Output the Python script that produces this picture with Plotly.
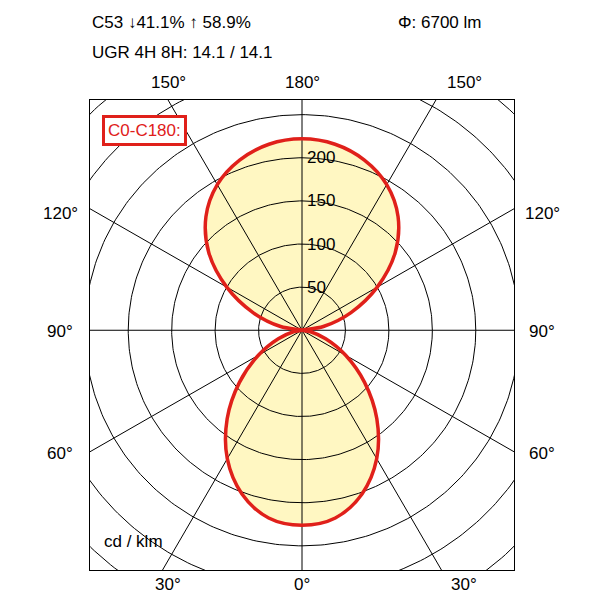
import numpy as np
import plotly.graph_objects as go

# intensity (cd/klm) vs gamma angle (0 = down, 180 = up), C0-C180 plane
gamma = [0, 10, 20, 30, 40, 50, 60, 70, 80, 90, 100, 110, 120, 130, 140, 150, 160, 170, 180]
intensity = [226, 221, 202, 172, 134, 94, 58, 29, 10, 0, 25, 60, 100, 140, 172, 195, 210, 219, 222]
ring_values = [50, 100, 150, 200, 250, 300, 350]
ring_labels = ["50", "100", "150", "200"]
spoke_angles = [0, 30, 60, 90, 120, 150]

g = np.array(gamma, float)
i = np.array(intensity, float)
ang = np.concatenate([g, 360 - g[::-1][1:]])
val = np.concatenate([i, i[::-1][1:]])
rad = np.radians(ang)
cx, cy = val * np.sin(rad), -val * np.cos(rad)

fig = go.Figure()
fig.add_trace(go.Scatter(x=cx, y=cy, mode="lines", fill="toself", fillcolor="#fff7c2",
                         line=dict(width=0, shape="spline"), hoverinfo="skip"))
grid = dict(color="black", width=1)
t = np.linspace(0, 2 * np.pi, 361)
for r in ring_values:
    fig.add_trace(go.Scatter(x=r * np.cos(t), y=r * np.sin(t), mode="lines", line=grid, hoverinfo="skip"))
for a in spoke_angles:
    ra = np.radians(a)
    fig.add_trace(go.Scatter(x=[-500 * np.sin(ra), 500 * np.sin(ra)], y=[500 * np.cos(ra), -500 * np.cos(ra)],
                             mode="lines", line=grid, hoverinfo="skip"))
fig.add_trace(go.Scatter(x=cx, y=cy, mode="lines", line=dict(color="#e0201a", width=3.5, shape="spline"),
                         hoverinfo="skip"))

for r, lab in zip(ring_values, ring_labels):
    fig.add_annotation(x=4, y=r, text=lab, showarrow=False, xanchor="left", yanchor="middle",
                       font=dict(family="Liberation Sans, Arial", size=17, color="black"))

font = dict(family="Liberation Sans, Arial", size=17, color="black")
T, B = 92, 562


def ptext(px, py, s, anchor="center"):
    fig.add_annotation(x=(px - 82) / 424, y=(B - py) / (B - T), xref="paper", yref="paper", text=s,
                       showarrow=False, xanchor=anchor, yanchor="middle", font=font)


ptext(82, 14, "C53 ↓41.1% ↑ 58.9%", "left")
ptext(432, 14, "Φ: 6700 lm", "center")
ptext(82, 44, "UGR 4H 8H: 14.1 / 14.1", "left")
ptext(160, 75, "150°"); ptext(294, 75, "180°"); ptext(456, 75, "150°")
ptext(52, 205, "120°"); ptext(534, 205, "120°")
ptext(52, 323, "90°"); ptext(534, 323, "90°")
ptext(52, 445, "60°"); ptext(534, 445, "60°")
ptext(160, 576, "30°"); ptext(294, 576, "0°"); ptext(456, 576, "30°")
ptext(94, 533, "cd / klm", "left")
fig.add_annotation(x=(94 - 82) / 424, y=(B - 122) / (B - T), xref="paper", yref="paper", text="C0-C180:",
                   showarrow=False, xanchor="left", yanchor="middle", bgcolor="white",
                   bordercolor="#e0201a", borderwidth=3, borderpad=3,
                   font=dict(family="Liberation Sans, Arial", size=17, color="#e0201a"))

fig.update_layout(width=600, height=600, showlegend=False, plot_bgcolor="white", paper_bgcolor="white",
                  margin=dict(l=82, r=94, t=T, b=600 - B), font=font,
                  xaxis=dict(range=[-244, 244], showgrid=False, zeroline=False, showticklabels=False,
                             showline=True, linecolor="black", mirror=True),
                  yaxis=dict(range=[-278, 267], showgrid=False, zeroline=False, showticklabels=False,
                             showline=True, linecolor="black", mirror=True))
fig.write_html("out.html")
